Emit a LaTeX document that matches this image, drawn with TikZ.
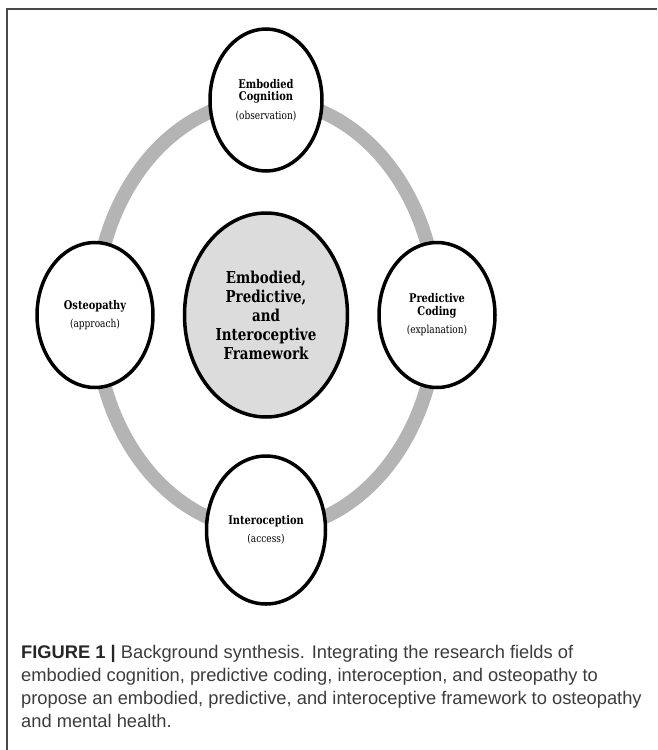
\documentclass[tikz,border=0pt]{standalone}
\usepackage{fontspec}
\setmainfont{DejaVu Serif}
\newfontfamily\fieldfont[FakeStretch=0.82]{DejaVu Serif}
\newfontfamily\capfont{Liberation Sans}
\usetikzlibrary{positioning,shapes.geometric}

\definecolor{ringgray}{HTML}{B4B4B4}
\definecolor{coregray}{HTML}{DCDCDC}
\definecolor{framegray}{HTML}{4A4A4A}
\definecolor{capgray}{HTML}{3C3C3C}

\begin{document}
\begin{tikzpicture}[x=1pt,y=-1pt,
  field/.style={ellipse,draw=black,line width=3.5pt,fill=white,inner sep=0pt,
    minimum width=116pt,minimum height=145pt,align=center,
    font=\fieldfont\fontsize{12}{12.5}\selectfont\bfseries},
  core/.style={field,fill=coregray,minimum width=163pt,minimum height=204pt,
    font=\fieldfont\fontsize{16.4}{19}\selectfont\bfseries},
  ring/.style={draw=ringgray,line width=14pt}]

\def\rx{171pt}
\def\ry{215pt}
\def\paren#1{\\[6pt]{\fontsize{11}{12}\selectfont\mdseries #1}}

\useasboundingbox (0,0) rectangle (657,750);

% frame
\draw[framegray,line width=1.6pt] (7,750) |- (657,9);

% centre and ring
\node[core] (core) at (266,315) {Embodied,\\Predictive,\\and\\Interoceptive\\Framework};
\draw[ring] (core.center) ellipse[x radius=\rx,y radius=\ry];

% the four fields
\node[field,minimum width=112pt,minimum height=142pt] (cognition) at ([yshift=\ry]core.center)
  {Embodied\\Cognition\paren{(observation)}};
\node[field] (coding) at ([xshift=\rx]core.center) {Predictive\\Coding\paren{(explanation)}};
\node[field,minimum width=119pt,minimum height=148pt] (interoception) at ([yshift=-\ry]core.center)
  {Interoception\paren{(access)}};
\node[field] (osteopathy) at ([xshift=-\rx]core.center) {Osteopathy\paren{(approach)}};

% caption
\node[anchor=base west,align=left,inner sep=0pt,text=capgray,
  font=\capfont\fontsize{18.3}{22.7}\selectfont] (caption) at (21,727)
  {{\bfseries\color{black!85}FIGURE 1 |} Background synthesis. Integrating the research fields of\\
   embodied cognition, predictive coding, interoception, and osteopathy to\\
   propose an embodied, predictive, and interoceptive framework to osteopathy\\
   and mental health.};

\end{tikzpicture}
\end{document}
